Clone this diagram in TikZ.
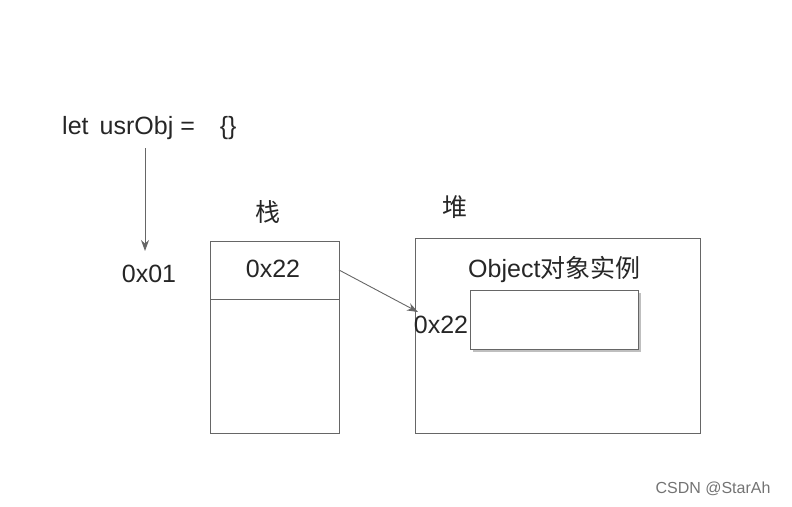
\documentclass[tikz,border=0pt]{standalone}
\usepackage{fontspec}
\setmainfont{Liberation Sans}
\newfontfamily\cjk{Noto Sans CJK SC}
\usetikzlibrary{arrows.meta}
\begin{document}
\begin{tikzpicture}[x=1pt,y=-1pt,
  txt/.style={font=\fontsize{25}{28}\selectfont, inner sep=0pt, text=black!85},
  box/.style={draw=black!60, line width=0.9pt},
  arr/.style={draw=black!60, line width=0.9pt, -{Stealth[length=11pt,width=8pt]}}]
\useasboundingbox (0,0) rectangle (792,506);
\node[txt, anchor=west] (code) at (62,128) {let\, usrObj =\quad \{\}};
\coordinate (codeb) at (145,148);
\node[txt] (a01) at (149,274) {0x01};
\draw[arr] (codeb) -- (145,251);
\node[txt] (zhan) at (268,212) {\cjk 栈};
\draw[box] (210,241) rectangle (339,433);
\coordinate (dl) at (210,299); \coordinate (dr) at (339,299);
\draw[box] (dl) -- (dr);
\node[txt] (s22) at (273,269) {0x22};
\node[txt] (dui) at (455,207) {\cjk 堆};
\draw[box] (415,238) rectangle (700,433);
\node[txt, anchor=west] (objt) at (468,270) {Object{\cjk 对象实例}};
\fill[black!25] (473,293) rectangle (641,352);
\draw[box, fill=white] (470,290) rectangle (638,349);
\node[txt] (h22) at (441,325) {0x22};
\coordinate (as) at (339,270);
\coordinate (ae) at (418,312);
\draw[arr] (as) -- (ae);
\node[font=\fontsize{16}{18}\selectfont, text=black!55] (wm) at (713,489) {CSDN @StarAh};
\end{tikzpicture}
\end{document}
